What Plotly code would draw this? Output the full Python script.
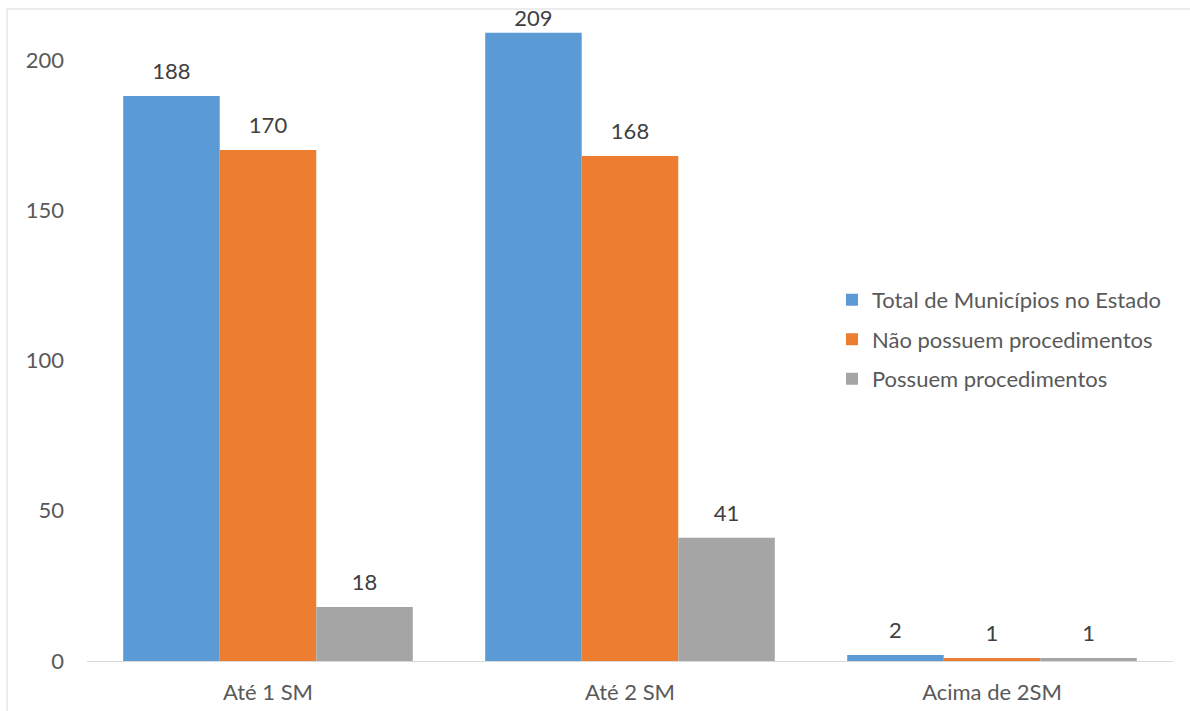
import plotly.graph_objects as go

categories = ["Até 1 SM", "Até 2 SM", "Acima de 2SM"]
total_municipios = [188, 209, 2]
nao_possuem = [170, 168, 1]
possuem = [18, 41, 1]

series = [
    ("Total de Municípios no Estado", total_municipios, "#5B9BD5"),
    ("Não possuem procedimentos", nao_possuem, "#ED7D31"),
    ("Possuem procedimentos", possuem, "#A5A5A5"),
]

FONT = "Lato"
Y_MAX = 216.6

fig = go.Figure()
for i, (name, vals, color) in enumerate(series):
    fig.add_trace(go.Bar(
        x=categories, y=vals, name=name, marker_color=color,
        marker_line_width=0, offsetgroup=str(i), alignmentgroup="a",
        legendgroup=f"g{i}",
    ))
for i, (name, vals, color) in enumerate(series):
    # data labels; pushed down when close to top of plot (like Excel)
    sizes = [17 if v < 0.9 * Y_MAX else 1 for v in vals]
    fig.add_trace(go.Scatter(
        x=categories, y=vals, mode="markers+text", text=[str(v) for v in vals],
        textposition="top center", offsetgroup=str(i), alignmentgroup="a",
        marker=dict(size=sizes, opacity=0, color=color),
        textfont=dict(size=22, color="#404040", family=FONT),
        showlegend=False, hoverinfo="skip", cliponaxis=False,
    ))

fig.update_layout(
    width=1190, height=711,
    margin=dict(l=87, r=17, t=10, b=50, autoexpand=False),
    paper_bgcolor="white", plot_bgcolor="white",
    barmode="group", bargap=0.2, bargroupgap=0,
    scattermode="group", scattergap=0.2,
    font=dict(family=FONT, color="#595959", size=22),
    showlegend=True,
    legend=dict(
        x=0.686, y=0.587, xanchor="left", yanchor="top",
        font=dict(size=22, color="#595959", family=FONT),
        traceorder="grouped", tracegroupgap=8,
        bgcolor="rgba(0,0,0,0)",
    ),
    xaxis=dict(
        showline=True, linecolor="#D9D9D9", linewidth=1,
        ticks="", tickfont=dict(size=22, color="#595959"),
        showgrid=False, zeroline=False, ticklabelstandoff=12,
        automargin=False,
    ),
    yaxis=dict(
        range=[0, Y_MAX], tickvals=[0, 50, 100, 150, 200],
        showgrid=False, zeroline=False, showline=False,
        tickfont=dict(size=22, color="#595959"), ticklabelstandoff=22,
        automargin=False,
    ),
)

fig.add_shape(
    type="rect", xref="paper", yref="paper",
    x0=(7 - 87) / 1086, x1=1.05, y0=-0.2, y1=(661 - 9) / 651,
    line=dict(color="#D9D9D9", width=1), fillcolor="rgba(0,0,0,0)",
    layer="below",
)

fig.write_html("out.html")
